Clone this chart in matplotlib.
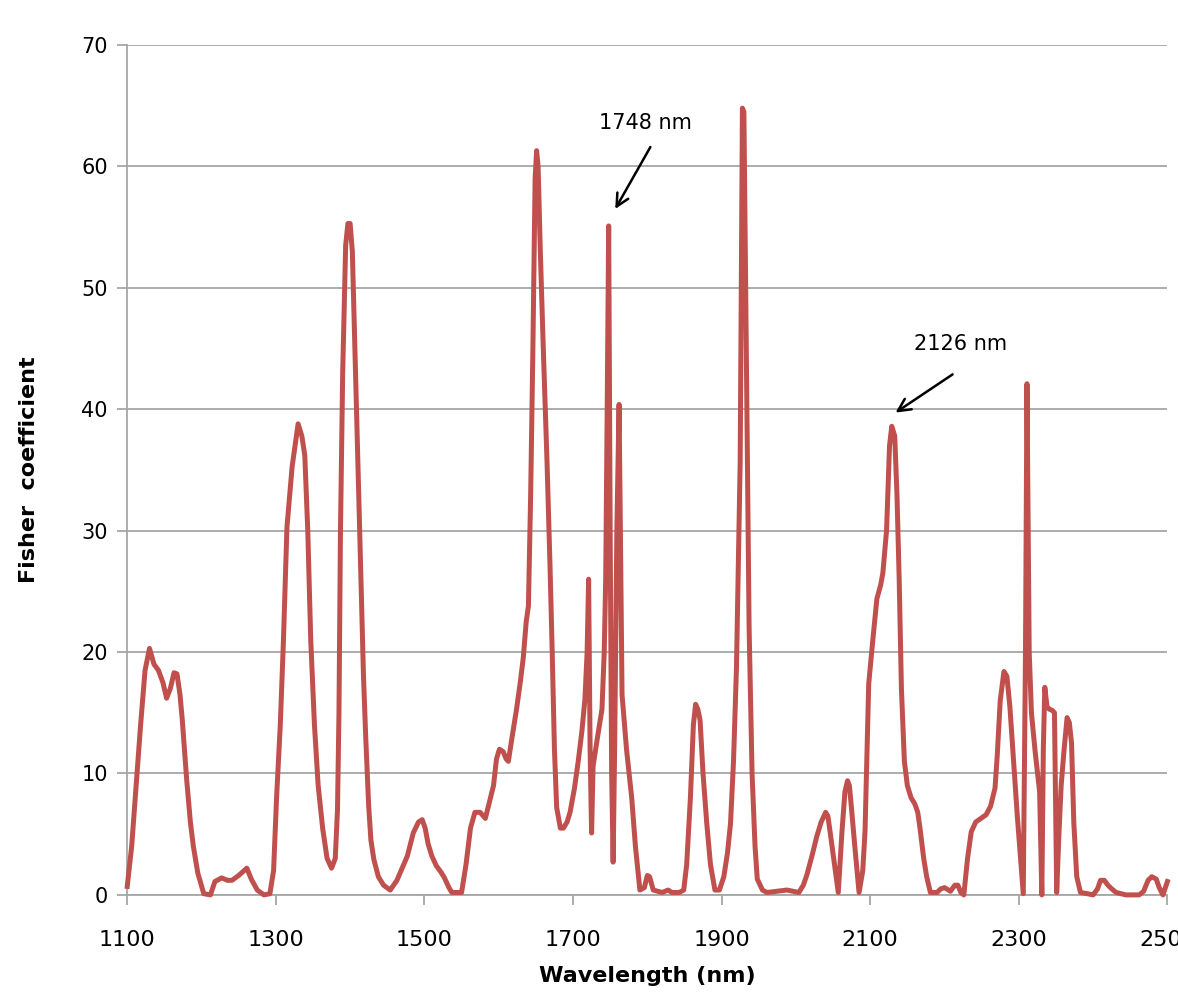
import matplotlib
matplotlib.use("Agg")
import matplotlib.pyplot as plt

# courbe de Fisher
wavelength = [
    1100, 1106, 1112, 1118, 1124, 1130, 1136, 1142, 1148, 1153, 1158, 1163, 1167, 1171, 1174,
    1180, 1185, 1189, 1195, 1203, 1212, 1218, 1227, 1235, 1241, 1250, 1261, 1267, 1275, 1284,
    1292, 1297, 1301, 1306, 1310, 1315, 1322, 1330, 1335, 1339, 1343, 1347, 1352, 1357, 1363,
    1369, 1375, 1380, 1383, 1385, 1387, 1390, 1394, 1397, 1400, 1403, 1406, 1410, 1414, 1418, 1421,
    1425, 1428, 1432, 1438, 1445, 1454, 1463, 1470, 1477, 1485, 1492, 1497, 1501, 1505, 1510,
    1516, 1522, 1527, 1533, 1537, 1550, 1556, 1562, 1568, 1575, 1582, 1589, 1593, 1597, 1601,
    1606, 1610, 1613, 1618, 1624, 1629, 1633, 1637, 1640, 1643, 1646, 1649, 1651, 1653, 1656,
    1660, 1665, 1669, 1672, 1675, 1678, 1683, 1687, 1692, 1696, 1702, 1707, 1712, 1716, 1719,
    1721, 1723, 1725, 1727, 1733, 1739, 1742, 1744, 1746, 1748, 1750, 1752, 1754, 1756, 1759,
    1762, 1764, 1766, 1772, 1779, 1784, 1790, 1796, 1800, 1803, 1808, 1820, 1828, 1833, 1843,
    1849, 1853, 1858, 1862, 1865, 1868, 1871, 1875, 1880, 1885, 1891, 1897, 1903, 1908, 1912,
    1916, 1920, 1925, 1928, 1930, 1934, 1937, 1941, 1945, 1948, 1955, 1961, 1988, 2004, 2010,
    2015, 2022, 2028, 2034, 2040, 2043, 2046, 2052, 2057, 2062, 2066, 2069.5, 2072, 2075, 2080,
    2085, 2090, 2093, 2098, 2104, 2109, 2114, 2117, 2122, 2126, 2129, 2133, 2136, 2139, 2142,
    2146, 2150, 2155, 2160, 2164, 2167, 2172, 2176, 2181, 2190, 2195, 2200, 2208, 2214, 2218,
    2222, 2226, 2231, 2236, 2242, 2249, 2256, 2262, 2268, 2271, 2275, 2280, 2284, 2288, 2293,
    2298, 2303, 2306, 2309, 2311, 2314, 2317, 2322, 2328, 2331, 2333, 2335, 2338, 2341, 2345,
    2348, 2351, 2354, 2357, 2361, 2365, 2368, 2371, 2374, 2378, 2383, 2392, 2400, 2406, 2410,
    2415, 2420, 2425, 2431, 2444, 2462, 2468, 2474, 2479, 2485, 2489, 2494, 2500,
]
fisher = [
    0.7, 4, 9, 14, 18.5, 20.3, 19, 18.5, 17.5, 16.2, 17, 18.3, 18.2, 16.5, 14.5,
    9.5, 6, 4, 1.8, 0.1, 0, 1.1, 1.4, 1.2, 1.2, 1.6, 2.2, 1.3, 0.4, 0,
    0.1, 2, 8, 14, 20.5, 30.3, 35.3, 38.8, 37.8, 36.2, 30, 21, 14, 9, 5.5,
    3, 2.2, 3, 7, 15, 30, 43, 53.5, 55.3, 55.3, 53, 46, 37, 27, 18, 13,
    7.3, 4.5, 2.9, 1.5, 0.8, 0.4, 1.2, 2.2, 3.2, 5.1, 6, 6.2, 5.5, 4.2, 3.2,
    2.4, 1.9, 1.4, 0.6, 0.2, 0.2, 2.5, 5.5, 6.8, 6.8, 6.3, 8, 9, 11.2, 12,
    11.8, 11.2, 11, 13, 15.3, 17.5, 19.5, 22.5, 23.8, 33, 45, 59, 61.3, 60, 53,
    45, 35.7, 27.2, 20, 12, 7.2, 5.5, 5.5, 6, 6.8, 8.8, 11, 13.5, 16.1, 20,
    26, 12, 5.1, 10.6, 13, 15.3, 20, 26, 40, 55.1, 30, 10, 2.7, 12, 30,
    40.4, 28, 16.5, 12, 8, 4, 0.4, 0.6, 1.6, 1.5, 0.4, 0.2, 0.4, 0.2, 0.2,
    0.4, 2.5, 8, 14, 15.7, 15.3, 14.4, 10, 5.9, 2.5, 0.4, 0.4, 1.5, 3.5, 5.9,
    11, 18.7, 35.7, 64.8, 64.5, 40, 22, 10, 4, 1.3, 0.4, 0.2, 0.4, 0.2, 0.8,
    1.7, 3.3, 4.8, 6, 6.8, 6.5, 5.2, 2.5, 0.2, 5.2, 8.5, 9.4, 9, 7, 3.5,
    0.2, 2, 5.2, 17.4, 21.3, 24.4, 25.5, 26.5, 30, 37, 38.6, 37.8, 33, 26, 17,
    11, 9, 8, 7.5, 6.8, 5.5, 3, 1.5, 0.2, 0.2, 0.5, 0.6, 0.3, 0.8, 0.8,
    0.2, 0, 3, 5.2, 6, 6.3, 6.6, 7.3, 8.8, 11.5, 16, 18.4, 18, 15.5, 11,
    6.5, 2.5, 0.1, 20, 42.1, 20, 15, 11.8, 8.5, 0, 12, 17.1, 15.5, 15.3, 15.2,
    15, 0.2, 5, 9, 12, 14.6, 14.2, 12.5, 6, 1.5, 0.2, 0.1, 0, 0.5, 1.2,
    1.2, 0.8, 0.5, 0.2, 0, 0, 0.3, 1.2, 1.5, 1.3, 0.6, 0, 1.1,
]

x_ticks = [1100, 1300, 1500, 1700, 1900, 2100, 2300, 2500]
y_ticks = [0, 10, 20, 30, 40, 50, 60, 70]

# annotations : texte, position du texte, queue et pointe de la fleche
labels = ["1748 nm", "2126 nm"]
label_pos = [(1798, 63.6), (2221, 45.4)]
arrow_tail = [(1806, 61.8), (2214, 43.0)]
arrow_head = [(1755, 56.3), (2131, 39.6)]

fig = plt.figure(figsize=(11.78, 10.01), dpi=100)
ax = fig.add_axes([0.108, 0.106, 0.883, 0.849])

ax.plot(wavelength, fisher, color="#C0504D", lw=3.6, solid_joinstyle="round", clip_on=False, zorder=3)

ax.set_xlim(1100, 2500)
ax.set_ylim(0, 70)
ax.set_xticks(x_ticks)
ax.set_yticks(y_ticks)
ax.yaxis.grid(True, color="#A6A6A6", lw=1.3)
ax.set_axisbelow(True)

for s in ["top", "right"]:
    ax.spines[s].set_visible(False)
for s in ["left", "bottom"]:
    ax.spines[s].set_color("#A6A6A6")
    ax.spines[s].set_linewidth(1.3)

ax.tick_params(axis="both", direction="out", length=7, width=1.3, color="#A6A6A6")
ax.tick_params(axis="x", pad=18, labelsize=16)
ax.tick_params(axis="y", pad=7, labelsize=15)
for t in ax.get_xticklabels() + ax.get_yticklabels():
    t.set_family("DejaVu Sans")

ax.set_xlabel("Wavelength (nm)", fontsize=16, fontweight="bold", labelpad=12)
ax.set_ylabel("Fisher  coefficient", fontsize=16, fontweight="bold", labelpad=30)

for lab, pos, tail, head in zip(labels, label_pos, arrow_tail, arrow_head):
    ax.text(pos[0], pos[1], lab, fontsize=15, ha="center", va="center", family="DejaVu Sans")
    ax.annotate("", xy=head, xytext=tail,
                arrowprops=dict(arrowstyle="->,head_length=0.9,head_width=0.45", color="black", lw=1.8))

fig.savefig("out.png", dpi=100)
